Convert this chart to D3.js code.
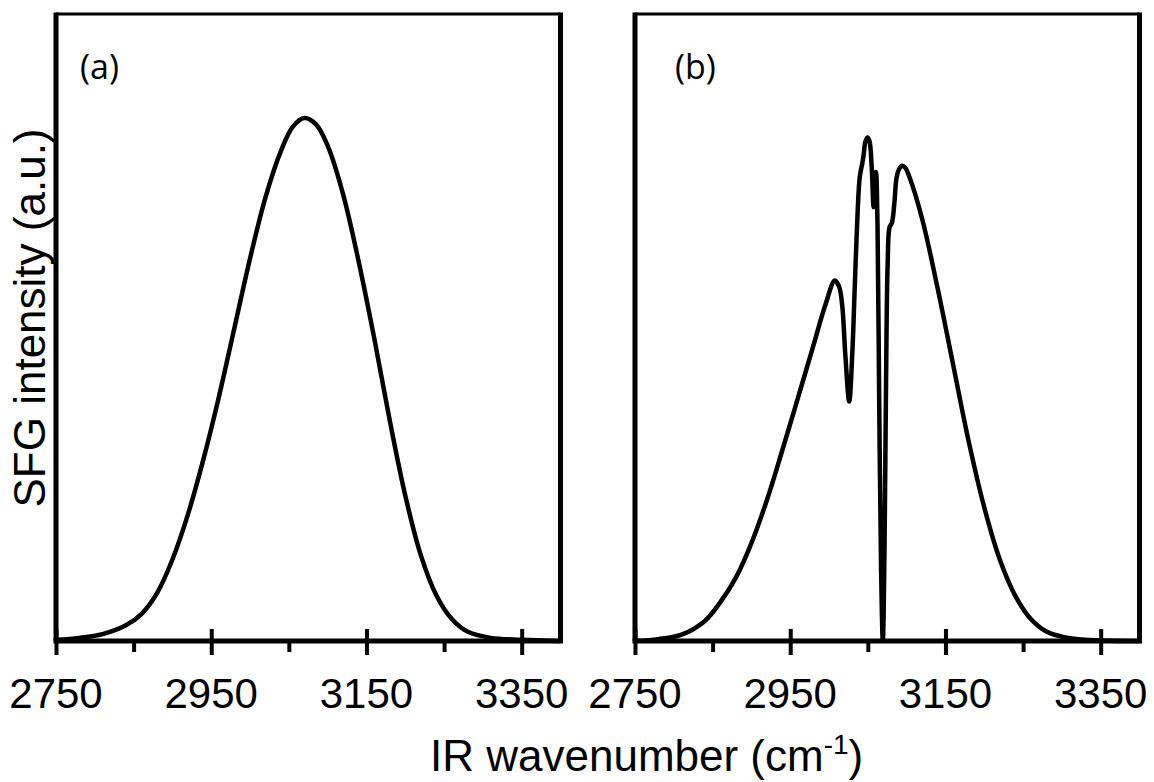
<!DOCTYPE html>
<html>
<head>
<meta charset="utf-8">
<script src="https://cdn.jsdelivr.net/npm/d3@7"></script>
<style>
  body { margin: 0; background: #fff; }
  svg { display: block; }
</style>
</head>
<body>
<div id="chart"></div>
<script>
// wavenumber (cm-1) and intensity (a.u.)
let xA = [2750, 2780, 2810, 2840, 2860, 2880, 2900, 2920, 2940, 2960, 2980, 3000, 3020, 3040, 3055, 3070,
          3085, 3100, 3120, 3140, 3160, 3180, 3200, 3220, 3240, 3260, 3280, 3310, 3350, 3400];
let yA = [0.002, 0.005, 0.011, 0.025, 0.043, 0.076, 0.130, 0.202, 0.290, 0.390, 0.500, 0.610, 0.708, 0.782, 0.820, 0.834,
          0.824, 0.790, 0.712, 0.605, 0.483, 0.352, 0.232, 0.137, 0.073, 0.035, 0.015, 0.005, 0.002, 0.000];

let xB = [2750, 2780, 2810, 2840, 2860, 2880, 2900, 2920, 2940, 2960, 2980, 2995, 3007.5, 3013, 3017, 3021,
          3026, 3030, 3033, 3035.5, 3039.5, 3043, 3044.5, 3047, 3049.6, 3052, 3055, 3057.5, 3060.5, 3062.5,
          3064.5, 3067, 3069.3, 3071.5, 3073.5, 3075.5, 3078, 3081, 3084, 3087, 3090, 3094, 3098, 3103,
          3120, 3140, 3160, 3180, 3200, 3220, 3240, 3260, 3280, 3300, 3330, 3400];
let yB = [0.000, 0.003, 0.010, 0.032, 0.062, 0.101, 0.156, 0.225, 0.305, 0.388, 0.472, 0.535, 0.575, 0.565, 0.535, 0.456,
          0.382, 0.460, 0.560, 0.643, 0.739, 0.763, 0.775, 0.797, 0.803, 0.798, 0.755, 0.692, 0.748, 0.660,
          0.400, 0.120, 0.000, 0.150, 0.420, 0.600, 0.660, 0.667, 0.696, 0.739, 0.752, 0.758, 0.755, 0.742,
          0.673, 0.562, 0.440, 0.318, 0.213, 0.130, 0.072, 0.035, 0.015, 0.007, 0.002, 0.000];

let majorTicks = [2750, 2950, 3150, 3350];
let minorTicks = [2850, 3050, 3250];
let panelLabels = ['(a)', '(b)'];

let width = 1154, height = 782;
let plotTop = 14, plotBottom = 641;

let svg = d3.select('#chart').append('svg')
    .attr('width', width)
    .attr('height', height);

let panels = [
    {left: 56, right: 560.5, xs: xA, ys: yA, labelX: 80},
    {left: 635, right: 1139.5, xs: xB, ys: yB, labelX: 675}
];

let y = d3.scaleLinear().domain([0, 1]).range([plotBottom, plotTop]);

panels.forEach(function (p, i) {
    let x = d3.scaleLinear().domain([2750, 3400]).range([p.left, p.right]);
    let g = svg.append('g');

    // curve
    let data = p.xs.map(function (d, j) { return [d, p.ys[j]]; });
    let line = d3.line()
        .x(function (d) { return x(d[0]); })
        .y(function (d) { return y(d[1]); })
        .curve(d3.curveCatmullRom.alpha(0.5));

    g.append('path')
        .datum(data)
        .attr('d', line)
        .attr('fill', 'none')
        .attr('stroke', '#000')
        .attr('stroke-width', 4.5)
        .attr('stroke-linejoin', 'round');

    // major ticks outward and inward
    g.append('g')
        .attr('transform', 'translate(0,' + plotBottom + ')')
        .call(d3.axisBottom(x).tickValues(majorTicks).tickSize(14).tickFormat(''))
        .call(function (a) { a.select('.domain').remove(); })
        .selectAll('line').attr('stroke-width', 4);

    g.append('g')
        .attr('transform', 'translate(0,' + plotBottom + ')')
        .call(d3.axisTop(x).tickValues(majorTicks).tickSize(12).tickFormat(''))
        .call(function (a) { a.select('.domain').remove(); })
        .selectAll('line').attr('stroke-width', 4);

    // minor ticks outward only
    g.append('g')
        .attr('transform', 'translate(0,' + plotBottom + ')')
        .call(d3.axisBottom(x).tickValues(minorTicks).tickSize(11).tickFormat(''))
        .call(function (a) { a.select('.domain').remove(); })
        .selectAll('line').attr('stroke-width', 4);

    // tick labels
    g.selectAll('.tickLabel')
        .data(majorTicks)
        .enter().append('text')
        .attr('class', 'tickLabel')
        .attr('x', function (d) { return x(d); })
        .attr('y', 708)
        .attr('text-anchor', 'middle')
        .style('font-family', '"Liberation Sans", Arial, sans-serif')
        .style('font-size', '42px')
        .text(function (d) { return d; });

    // frame
    g.append('line')
        .attr('x1', p.left).attr('x2', p.right)
        .attr('y1', plotTop).attr('y2', plotTop)
        .attr('stroke', '#000').attr('stroke-width', 3);
    [p.left, p.right].forEach(function (xx) {
        g.append('line')
            .attr('x1', xx).attr('x2', xx)
            .attr('y1', plotTop - 1.5).attr('y2', plotBottom)
            .attr('stroke', '#000').attr('stroke-width', 5);
    });
    g.append('line')
        .attr('x1', p.left - 2.5).attr('x2', p.right + 2.5)
        .attr('y1', plotBottom).attr('y2', plotBottom)
        .attr('stroke', '#000').attr('stroke-width', 5);

    // panel label
    g.append('text')
        .attr('x', p.labelX)
        .attr('y', 79)
        .style('font-family', '"Open Sans", sans-serif')
        .style('font-size', '34px')
        .text(panelLabels[i]);
});

// axis titles
let xTitle = svg.append('text')
    .attr('x', 430)
    .attr('y', 771)
    .style('font-family', '"Liberation Sans", Arial, sans-serif')
    .style('font-size', '44px');
xTitle.append('tspan').text('IR wavenumber (cm');
xTitle.append('tspan').attr('dy', -17).style('font-size', '28px').text('-1');
xTitle.append('tspan').attr('dy', 17).text(')');

svg.append('text')
    .attr('transform', 'translate(45,318) rotate(-90)')
    .attr('text-anchor', 'middle')
    .style('font-family', '"Liberation Sans", Arial, sans-serif')
    .style('font-size', '44px')
    .text('SFG intensity (a.u.)');
</script>
</body>
</html>
